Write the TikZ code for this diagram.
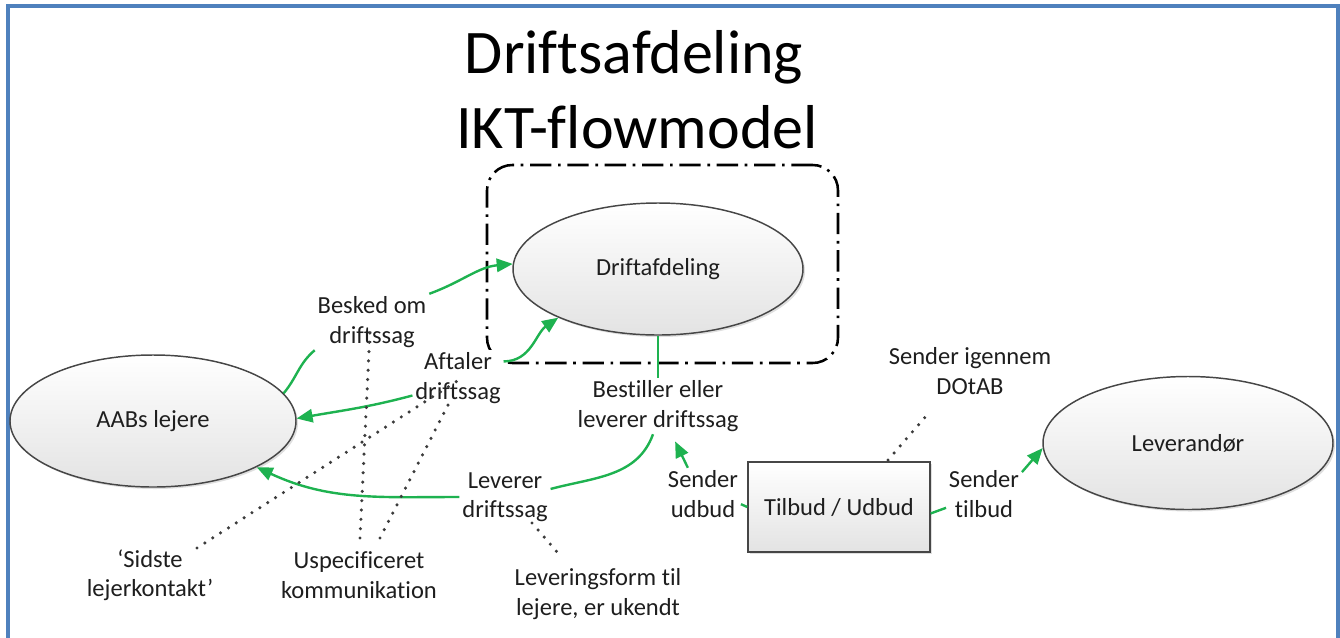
\documentclass[tikz,border=0pt]{standalone}
\usepackage{fontspec}
\setmainfont{Carlito}[Ligatures=NoCommon]
\usetikzlibrary{arrows.meta,shapes.geometric,shadows,calc}
\definecolor{grn}{RGB}{30,178,80}
\definecolor{frameblue}{RGB}{79,129,189}
\definecolor{edgec}{RGB}{70,70,70}
\definecolor{txt}{RGB}{30,30,30}
\definecolor{dotc}{RGB}{60,60,60}
\begin{document}
\begin{tikzpicture}[x=0.75pt,y=-0.75pt,
  lbl/.style={font=\fontsize{18.4}{22}\selectfont, text=txt, align=center, fill=white, inner sep=2pt},
  ttl/.style={font=\fontsize{46.5}{56}\selectfont, text=black, inner sep=0pt},
  ent/.style={ellipse, draw=edgec, line width=1.1pt, top color=white, bottom color=gray!22,
    drop shadow={shadow xshift=1.5pt,shadow yshift=-1.5pt,opacity=0.25,fill=gray},
    inner sep=0pt, font=\fontsize{18.4}{22}\selectfont, text=txt},
  boxst/.style={rectangle, draw=edgec, line width=1.1pt, top color=white, bottom color=gray!22,
    drop shadow={shadow xshift=1.5pt,shadow yshift=-1.5pt,opacity=0.25,fill=gray},
    inner sep=0pt, font=\fontsize{18.4}{22}\selectfont, text=txt},
  grp/.style={rectangle, draw=black, line width=1.9pt, rounded corners=19pt,
    dash pattern=on 16pt off 5pt on 2pt off 5pt},
  flow/.style={draw=grn, line width=1.8pt},
  arr/.style={flow, -{Triangle[length=12pt,width=10pt]}},
  dots/.style={draw=dotc, line width=2.6pt, dash pattern=on 0pt off 7pt, line cap=round},
  frm/.style={draw=frameblue, line width=2.4pt}
]
\useasboundingbox (0,0) rectangle (1340,637);
% frame
\coordinate (f1) at (8,640);
\coordinate (f2) at (8,6);
\coordinate (f3) at (1338,6);
\coordinate (f4) at (1338,640);
\draw[frm] (f1) -- (f2) -- (f3) -- (f4);

% title
\node[ttl, anchor=base] (t1) at (634,73) {Driftsafdeling};
\node[ttl, anchor=base] (t2) at (637,148) {IKT-flowmodel};

% group box and entities
\node[grp, minimum width=263.25pt, minimum height=148.5pt] (grp) at (662.5,264) {};
\node[ent, minimum width=214.5pt, minimum height=99pt] (aab) at (153,421) {AABs lejere};
\node[ent, minimum width=217.5pt, minimum height=99pt] (drift) at (658,269) {Driftafdeling};
\node[ent, minimum width=217.5pt, minimum height=99.75pt] (lev) at (1188,443) {Leverandør};
\node[boxst, minimum width=136.5pt, minimum height=67.5pt] (tilbud) at (839,507) {Tilbud / Udbud};

% labels
\node[lbl] (besked) at (372,322) {Besked om\\driftssag};
\node[lbl] (aftaler) at (458,378) {Aftaler\\driftssag};
\node[lbl] (bestiller) at (658,406) {Bestiller eller\\leverer driftssag};
\node[lbl] (leverer) at (505,497) {Leverer\\driftssag};
\node[lbl] (levform) at (598,594) {Leveringsform til\\lejere, er ukendt};
\node[lbl] (uspec) at (359,575) {Uspecificeret\\kommunikation};
\node[lbl] (sidste) at (150,575) {‘Sidste\\lejerkontakt’};
\node[lbl] (dotab) at (970,371) {Sender igennem\\DOtAB};
\node[lbl] (sudbud) at (703,494) {Sender\\udbud};
\node[lbl] (stilbud) at (984,494) {Sender\\tilbud};

% green flows
\draw[flow] (aab.12) to[out=50,in=-140] (besked.south west);
\draw[arr] (besked.north east) to[out=20,in=185] (drift.178);
\draw[arr] (aftaler.20) to[out=0,in=-145] (drift.206);
\draw[arr] (aftaler.201) to[out=195,in=10] (aab.1);
\draw[flow] (drift.south) -- (bestiller.north);
\draw[flow] (bestiller.-100) to[out=-110,in=15] (leverer.10);
\draw[arr] (leverer.west) to[out=180,in=-25] (aab.-24);
\draw[arr, shorten >=6pt] (sudbud.120) -- (bestiller);
\draw[flow] (sudbud.-15) -- (tilbud.west);
\draw[flow] (tilbud.-4) -- (stilbud.200);
\draw[arr] (stilbud.30) -- (lev.182);

% dotted annotations
\draw[dots] ($(sidste.center)+(47,-27)$) -- ($(aftaler.center)+(4,0)$);
\draw[dots] ($(uspec.center)+(1,-37)$) -- ($(besked.center)+(-2,8)$);
\draw[dots] ($(uspec.center)+(21,-37)$) -- ($(aftaler.center)+(-10,27)$);
\draw[dots] ($(leverer.center)+(27,26)$) -- ($(levform.center)+(-41,-42)$);
\draw[dots] ($(tilbud.center)+(49,-47)$) -- ($(dotab.center)+(-43,44)$);
\end{tikzpicture}
\end{document}
